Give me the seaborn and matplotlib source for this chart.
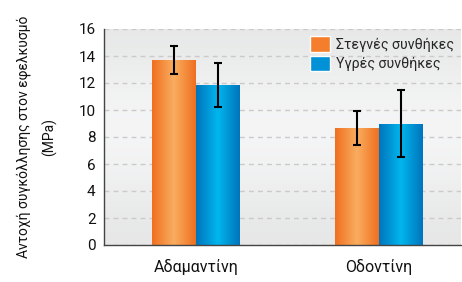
import numpy as np
import pandas as pd
import matplotlib
matplotlib.use("Agg")
import matplotlib.pyplot as plt
import seaborn as sns
from matplotlib.colors import LinearSegmentedColormap
from matplotlib.patches import Rectangle

categories = ["Αδαμαντίνη", "Οδοντίνη"]
conditions = ["Στεγνές συνθήκες", "Υγρές συνθήκες"]
dry_values = [13.7, 8.65]
wet_values = [11.85, 9.0]
dry_err = [1.05, 1.25]
wet_err = [1.65, 2.5]
y_ticks = [0, 2, 4, 6, 8, 10, 12, 14, 16]

sns.set_theme(style="white")
plt.rcParams['font.family'] = ['Roboto', 'DejaVu Sans']

df = pd.DataFrame({
    "cat": categories * 2,
    "cond": [conditions[0]] * 2 + [conditions[1]] * 2,
    "val": dry_values + wet_values,
})
errs = dry_err + wet_err

fig = plt.figure(figsize=(4.62, 2.82), dpi=100)
ax = fig.add_axes([104 / 462, 1 - 245 / 282, 357 / 462, 216 / 282])

palette = {conditions[0]: "#f47e2c", conditions[1]: "#0091d6"}
sns.barplot(data=df, x="cat", y="val", hue="cond", order=categories,
            hue_order=conditions, palette=palette, width=0.48,
            errorbar=None, saturation=1, ax=ax, zorder=3, linewidth=0)

# background gradient
bg = np.array([0.915, 0.935, 0.955, 0.965, 0.96, 0.945, 0.925, 0.91])
bgimg = np.repeat(bg[:, None], 2, axis=1)
ax.imshow(np.dstack([bgimg * 0.995, bgimg * 0.997, bgimg]), extent=[0, 1, 0, 1],
          transform=ax.transAxes, aspect="auto", zorder=0, interpolation="bicubic")

cmaps = {
    conditions[0]: LinearSegmentedColormap.from_list("o", ["#f07020", "#f9ad60", "#f07020"]),
    conditions[1]: LinearSegmentedColormap.from_list("b", ["#0075bd", "#00b6ee", "#0075bd"]),
}
grad = np.linspace(0, 1, 64)[None, :]

patches = [p for p in ax.patches if p.get_height() > 0]
patches.sort(key=lambda p: p.get_x())
order = []
for ci in range(len(categories)):
    order.append(conditions[0]); order.append(conditions[1])
for p, cond in zip(patches, order):
    x0, w, h = p.get_x(), p.get_width(), p.get_height()
    im = ax.imshow(grad, extent=[x0, x0 + w, 0, h], aspect="auto",
                   cmap=cmaps[cond], zorder=3.5)
    im.set_clip_path(p)

# error bars
vals_by = {(c, k): v for c, k, v in zip(df["cat"], df["cond"], df["val"])}
err_by = {(c, k): e for c, k, e in zip(df["cat"], df["cond"], errs)}
idx = 0
for ci, cat in enumerate(categories):
    for cond in conditions:
        p = patches[idx]; idx += 1
        xc = p.get_x() + p.get_width() / 2
        ax.errorbar(xc, vals_by[(cat, cond)], yerr=err_by[(cat, cond)], color="black",
                    elinewidth=1.5, capsize=3.2, capthick=1.5, zorder=5)

ax.set_xlim(-0.503, 1.448)
ax.set_ylim(0, 16)
ax.set_yticks(y_ticks)
ax.yaxis.grid(True, linestyle=(0, (3.5, 3)), color="#cacaca", linewidth=1, zorder=1)
ax.set_axisbelow(True)
ax.tick_params(axis="both", length=0, labelsize=11, colors="#111111", pad=6)
ax.tick_params(axis="x", labelsize=11.5, pad=10)
ax.set_xlabel("")
ax.set_ylabel("Αντοχή συγκόλλησης στον εφελκυσμό\n(MPa)", fontsize=10,
              color="#111111", labelpad=15, linespacing=1.95)
for s in ["top", "right"]:
    ax.spines[s].set_visible(False)
for s in ["left", "bottom"]:
    ax.spines[s].set_color("#444444")
    ax.spines[s].set_linewidth(1)
    ax.spines[s].set_zorder(6)

handles = [Rectangle((0, 0), 1, 1, facecolor=palette[c]) for c in conditions]
leg = ax.legend(handles, conditions, loc="upper right", frameon=False, fontsize=10.2,
                handlelength=1.4, handleheight=1.35, handletextpad=0.4,
                borderaxespad=0.15, borderpad=0.35, labelspacing=0.25)

fig.savefig("out.png", dpi=100)
